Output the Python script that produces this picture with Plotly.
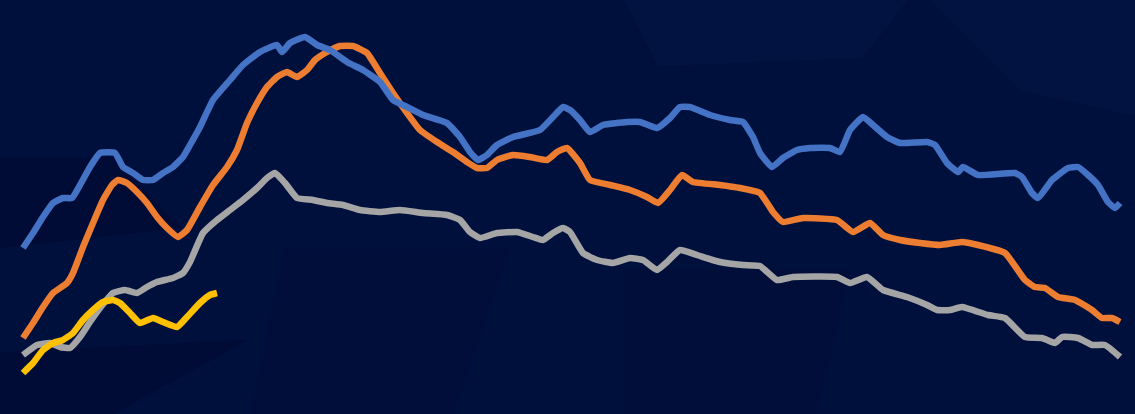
import plotly.graph_objects as go

# Values (x: position along the series, y: level)
blue_x = [23, 33, 43, 53, 63, 72, 80, 90, 100, 115, 123, 133, 143, 153, 163, 173, 183, 190,
          200, 213, 230, 243, 260, 277, 282, 290, 305, 317, 330, 347, 363, 380,
          393, 407, 423, 447, 460, 470, 478, 487, 497, 513, 540, 553, 563, 570,
          580, 590, 603, 627, 640, 657, 670, 680, 690, 710, 730, 743, 753, 760,
          772, 783, 797, 810, 830, 840, 850, 863, 873, 887, 900, 927, 935, 947,
          958, 963, 978, 1015, 1022, 1032, 1038, 1052, 1068, 1078, 1088, 1098, 1108, 1115, 1120]
blue_y = [248, 233, 217, 203, 198, 198, 185, 167, 153, 153, 167, 173, 180, 180, 173, 167, 157, 145,
          127, 100, 80, 65, 52, 45, 52, 43, 37, 45, 50, 62, 70, 82,
          100, 107, 115, 123, 137, 152, 160, 155, 145, 137, 130, 117, 107, 110,
          120, 132, 125, 122, 122, 128, 118, 107, 107, 115, 120, 122, 137, 153,
          167, 158, 150, 148, 148, 152, 130, 117, 125, 137, 143, 142, 145, 163,
          172, 167, 175, 173, 177, 193, 198, 180, 168, 167, 175, 185, 202, 208, 203]

orange_x = [23, 33, 43, 53, 67, 73, 83, 93, 103, 112, 118, 127, 137, 147, 157, 167, 178, 187,
            200, 213, 227, 237, 247, 257, 267, 277, 287, 297, 307, 315, 327, 340, 353, 367, 380,
            393, 407, 420, 437, 453, 467, 477, 487, 497, 513, 530, 547, 557, 567,
            580, 590, 610, 630, 647, 658, 670, 682, 693, 720, 740, 760,
            773, 783, 803, 837, 853, 870, 883, 900, 920, 940,
            962, 978, 1005, 1025, 1035, 1045, 1058, 1075, 1092, 1102, 1112, 1120]
orange_y = [338, 323, 307, 293, 283, 273, 247, 223, 200, 185, 180, 183, 192, 203, 217, 228, 237, 230,
            207, 185, 167, 150, 123, 103, 87, 77, 72, 77, 70, 60, 52, 46, 46, 53, 73,
            93, 113, 130, 142, 152, 162, 168, 168, 160, 155, 157, 160, 152, 148,
            163, 180, 185, 190, 197, 203, 190, 175, 182, 185, 188, 193,
            212, 222, 218, 220, 232, 223, 235, 240, 243, 245,
            242, 245, 253, 280, 287, 288, 297, 300, 310, 318, 318, 322]

gray_x = [23, 37, 50, 60, 70, 80, 90, 100, 113, 125, 137, 147, 157, 173, 183, 190,
          203, 217, 230, 243, 257, 267, 275, 285, 297, 313, 327, 343, 360, 380,
          400, 423, 447, 460, 470, 480, 497, 517, 533, 543, 553, 563, 570,
          583, 597, 613, 630, 643, 657, 667, 680, 697, 720, 743, 760,
          777, 793, 837, 850, 867, 883, 907, 927, 937, 950,
          962, 988, 1005, 1025, 1042, 1055, 1062, 1078, 1092, 1105, 1120]
gray_y = [355, 345, 343, 347, 348, 337, 322, 308, 293, 290, 293, 287, 282, 278, 273, 262,
          233, 220, 210, 200, 188, 178, 173, 183, 198, 200, 203, 205, 210, 212,
          210, 213, 215, 220, 232, 238, 233, 232, 237, 240, 233, 228, 232,
          253, 260, 263, 258, 260, 270, 262, 250, 255, 262, 265, 266,
          280, 277, 277, 283, 277, 290, 297, 305, 310, 310,
          307, 315, 318, 337, 338, 343, 337, 338, 345, 345, 357]

yellow_x = [23, 33, 43, 53, 63, 73, 83, 93, 103, 113, 120, 130, 140, 153, 163, 177, 187,
            200, 210, 217]
yellow_y = [373, 363, 350, 343, 340, 333, 320, 310, 302, 300, 303, 313, 323, 318, 322, 327, 317,
            303, 295, 293]

H = 414
series = [
    ("Series 3", gray_x, gray_y, "#A5A5A5"),
    ("Series 2", orange_x, orange_y, "#ED7D31"),
    ("Series 1", blue_x, blue_y, "#4472C4"),
    ("Series 4", yellow_x, yellow_y, "#FFC000"),
]

fig = go.Figure()
for name, xs, ys, col in series:
    fig.add_trace(go.Scatter(
        x=xs, y=[H - v for v in ys], mode="lines", name=name,
        line=dict(color=col, width=6.5, shape="spline", smoothing=0.4),
        hoverinfo="skip",
    ))

# subtle background facets
facets = [
    ("M 0.0 0.62 L 0.10 0.62 L 0.16 0.45 L 0.0 0.40 Z", "rgba(0,0,30,0.20)"),
    ("M 0.0 0.0 L 0.10 0.0 L 0.22 0.18 L 0.0 0.15 Z", "rgba(0,0,30,0.22)"),
    ("M 0.55 1.0 L 0.80 1.0 L 0.76 0.86 L 0.58 0.84 Z", "rgba(20,40,100,0.12)"),
    ("M 0.82 1.0 L 1.0 1.0 L 1.0 0.72 L 0.90 0.78 Z", "rgba(20,40,100,0.12)"),
    ("M 0.25 0.40 L 0.45 0.40 L 0.40 0.0 L 0.22 0.0 Z", "rgba(0,0,30,0.12)"),
    ("M 0.55 0.35 L 0.75 0.35 L 0.72 0.0 L 0.55 0.0 Z", "rgba(0,0,30,0.10)"),
]
shapes = [dict(type="path", path=p, xref="paper", yref="paper", fillcolor=c,
               line=dict(width=0), layer="below") for p, c in facets]

fig.update_layout(
    width=1135, height=414,
    margin=dict(l=0, r=0, t=0, b=0),
    paper_bgcolor="#00103d",
    plot_bgcolor="#00103d",
    showlegend=False,
    shapes=shapes,
    xaxis=dict(range=[0, 1135], visible=False, fixedrange=True),
    yaxis=dict(range=[0, 414], visible=False, fixedrange=True),
)
fig.write_html("out.html", config={"displayModeBar": False},
               post_script="document.body.style.margin='0';")
